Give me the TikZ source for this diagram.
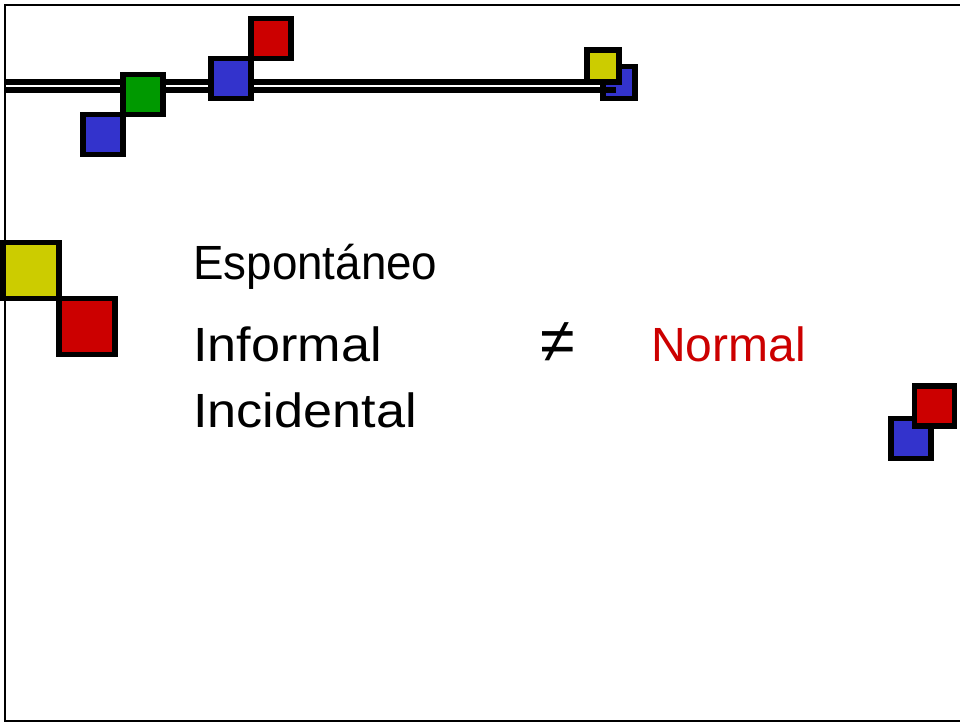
\documentclass[tikz,border=0pt]{standalone}
\usepackage{fontspec}
\setmainfont{Liberation Sans}
\definecolor{sqblue}{HTML}{3333CC}
\definecolor{sqgreen}{HTML}{009900}
\definecolor{sqred}{HTML}{CC0000}
\definecolor{sqyellow}{HTML}{CCCC00}
\tikzset{
  sq/.style={draw=black, line width=5.5pt, minimum size=#1, inner sep=0pt, outer sep=0pt, rectangle},
  sq/.default=40pt,
  rail/.style={line width=5.6pt, black},
  txt/.style={anchor=base west, inner sep=0pt, font=\fontsize{48}{56}\selectfont},
}
\begin{document}
\begin{tikzpicture}[x=1pt,y=-1pt]
\useasboundingbox (0,0) rectangle (960,721);
\clip (0,0) rectangle (960,721);
% frame
\node[draw=black, line width=2pt, minimum width=961pt, minimum height=716pt, anchor=north west, inner sep=0pt] (frame) at (4,3.5) {};
% small blue behind rails
\node[sq=32pt, fill=sqblue] (sb2) at (618.8,82.5) {};
% rails
\coordinate (r1a) at (4,82.2);
\coordinate (r1b) at (602,82.2);
\coordinate (r2a) at (4,89.8);
\coordinate (r2b) at (616,89.8);
\draw[rail] (r1a) -- (r1b);
\draw[rail] (r2a) -- (r2b);
% top-left cluster
\node[sq, fill=sqblue] (b1) at (103,134.7) {};
\node[sq, fill=sqgreen] (g1) at (143.2,94.5) {};
\node[sq, fill=sqred] (r1) at (271,38.5) {};
\node[sq, fill=sqblue] (b2) at (231,78.7) {};
% small yellow
\node[sq=32pt, fill=sqyellow] (y2) at (602.8,66.2) {};
% big left pair
\node[sq=56pt, fill=sqyellow] (y1) at (31.2,270.5) {};
\node[sq=56pt, fill=sqred] (r2) at (87.2,326.7) {};
% right pair
\node[sq, fill=sqblue] (b3) at (910.8,438.3) {};
\node[sq, fill=sqred] (r3) at (934.5,406.2) {};
% texts
\node[txt] (t1) at (193,279) {\scalebox{0.953}[1]{Espontáneo}};
\node[txt] (t2) at (193,361) {\scalebox{1.087}[1]{Informal}};
\node[txt] (t3) at (193,427) {\scalebox{1.088}[1]{Incidental}};
\node[anchor=center, inner sep=0pt, font=\fontsize{63}{70}\selectfont] (neq) at (557.5,343) {≠};
\node[txt, text=sqred] (t4) at (651,361.5) {Normal};
\end{tikzpicture}
\end{document}
